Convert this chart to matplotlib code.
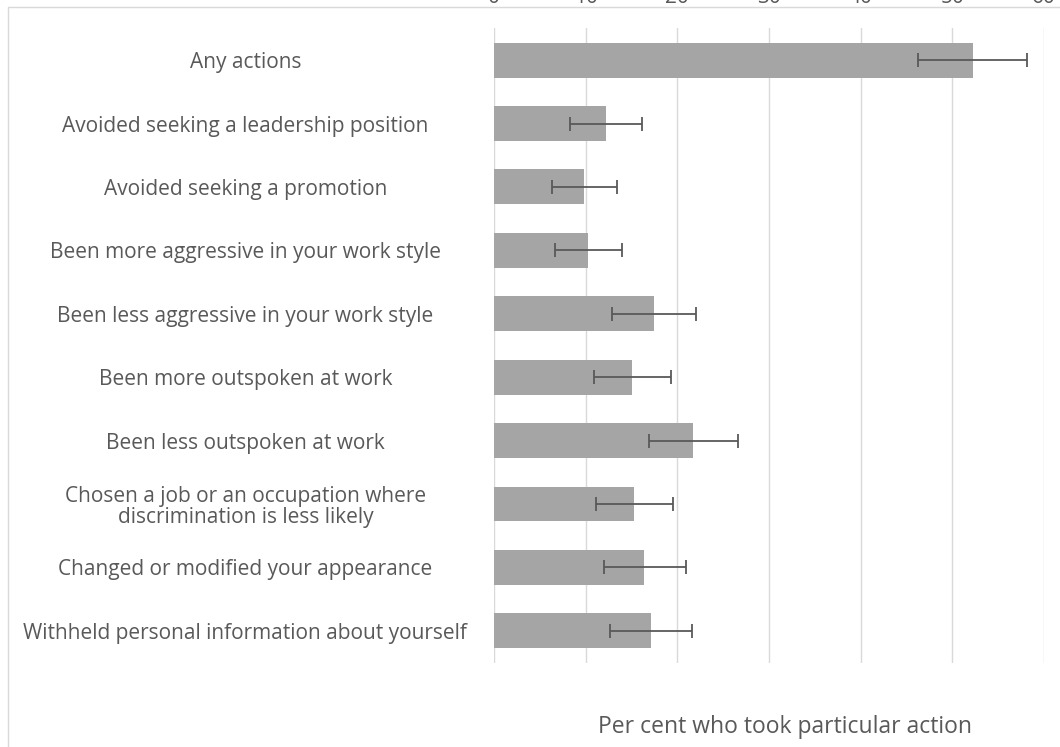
import matplotlib.pyplot as plt
from matplotlib.patches import Rectangle

# Acciones tomadas por discriminación (porcentaje con intervalo)
acciones = ['Any actions',
            'Avoided seeking a leadership position',
            'Avoided seeking a promotion',
            'Been more aggressive in your work style',
            'Been less aggressive in your work style',
            'Been more outspoken at work',
            'Been less outspoken at work',
            'Chosen a job or an occupation where\ndiscrimination is less likely',
            'Changed or modified your appearance',
            'Withheld personal information about yourself']
porcentaje = [52.2, 12.2, 9.8, 10.3, 17.5, 15.1, 21.7, 15.3, 16.4, 17.1]
ic_bajo = [46.3, 8.3, 6.3, 6.7, 12.9, 10.9, 16.9, 11.1, 12.0, 12.7]
ic_alto = [58.1, 16.1, 13.4, 14.0, 22.0, 19.3, 26.6, 19.5, 20.9, 21.6]
ticks_x = [0, 10, 20, 30, 40, 50, 60]

err = [[p - b for p, b in zip(porcentaje, ic_bajo)],
       [a - p for p, a in zip(porcentaje, ic_alto)]]

plt.rcParams['font.family'] = ['Open Sans', 'DejaVu Sans']
gris_texto = '#595959'

fig = plt.figure(figsize=(10.6, 7.47), dpi=100)
ax = fig.add_axes([0.466, 0.113, 0.519, 0.849])

pos = list(range(len(acciones)))
ax.barh(pos, porcentaje, height=0.55, color='#a5a5a5', zorder=2)
ax.errorbar(porcentaje, pos, xerr=err, fmt='none', ecolor='#595959',
            elinewidth=1.3, capsize=5, capthick=1.3, zorder=3)

ax.set_ylim(len(acciones) - 0.5, -0.5)
ax.set_xlim(0, 60)
ax.set_yticks(pos)
ax.set_yticklabels(acciones, fontsize=15, color=gris_texto, linespacing=1.05)
for t in ax.get_yticklabels():
    t.set_horizontalalignment('center')
ax.tick_params(axis='y', length=0, pad=179)

ax.xaxis.tick_top()
ax.set_xticks(ticks_x)
ax.set_xticklabels([str(t) for t in ticks_x], fontsize=15, color=gris_texto)
ax.tick_params(axis='x', length=0, pad=15)
ax.grid(axis='x', color='#d9d9d9', linewidth=1, zorder=0)
for s in ax.spines.values():
    s.set_visible(False)

fig.text(0.741, 0.027, 'Per cent who took particular action',
         fontsize=16.5, color=gris_texto, ha='center', va='center')

# borde del área del gráfico
fig.patches.append(Rectangle((8 / 1060, -0.1), 1.2, 1.1 - 7 / 747,
                             transform=fig.transFigure, fill=False,
                             edgecolor='#d9d9d9', linewidth=1))

plt.savefig('out.png', dpi=100)
